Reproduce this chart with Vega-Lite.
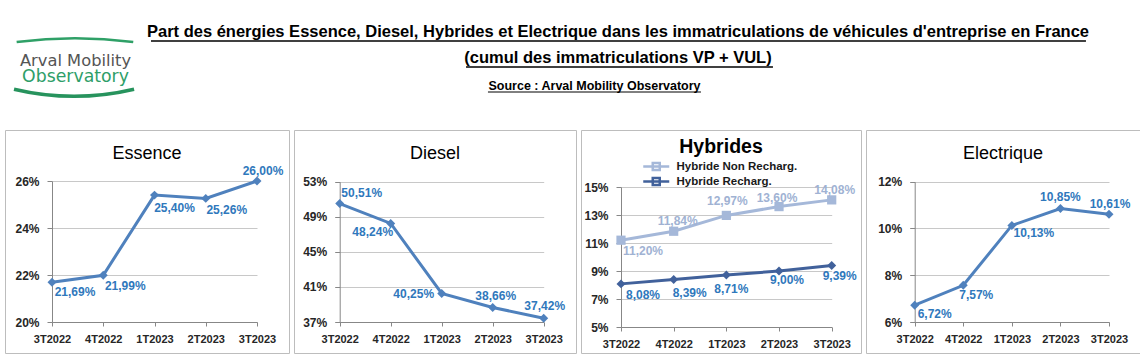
{
  "$schema": "https://vega.github.io/schema/vega-lite/v6.json",
  "padding": {"left": 4, "top": 0, "right": 0, "bottom": 0},
  "background": "white",
  "config": {
    "locale": {"number": {"decimal": ",", "thousands": " ", "grouping": [3], "currency": ["", " €"]}},
    "font": "Liberation Sans",
    "view": {"stroke": "#BDBDBD", "strokeWidth": 1},
    "axis": {"domainColor": "#878787", "tickColor": "#878787", "gridColor": "#C8C8C8", "labelFont": "Liberation Sans", "labelFontWeight": "bold", "labelColor": "#262626"},
    "axisX": {"labelFontSize": 11, "tickSize": 4, "labelPadding": 7, "grid": false, "labelAngle": 0, "labelOverlap": false, "labelBound": false},
    "axisY": {"labelFontSize": 12, "tickSize": 5, "labelPadding": 8, "grid": true}
  },
  "datasets": {
    "d": [
      {"e": "Essence", "s": "Essence", "q": "3T2022", "v": 0.2169},
      {"e": "Essence", "s": "Essence", "q": "4T2022", "v": 0.2199},
      {"e": "Essence", "s": "Essence", "q": "1T2023", "v": 0.2540},
      {"e": "Essence", "s": "Essence", "q": "2T2023", "v": 0.2526},
      {"e": "Essence", "s": "Essence", "q": "3T2023", "v": 0.2600},
      {"e": "Diesel", "s": "Diesel", "q": "3T2022", "v": 0.5051},
      {"e": "Diesel", "s": "Diesel", "q": "4T2022", "v": 0.4824},
      {"e": "Diesel", "s": "Diesel", "q": "1T2023", "v": 0.4025},
      {"e": "Diesel", "s": "Diesel", "q": "2T2023", "v": 0.3866},
      {"e": "Diesel", "s": "Diesel", "q": "3T2023", "v": 0.3742},
      {"e": "Hybrides", "s": "Hybride Non Recharg.", "q": "3T2022", "v": 0.1120},
      {"e": "Hybrides", "s": "Hybride Non Recharg.", "q": "4T2022", "v": 0.1184},
      {"e": "Hybrides", "s": "Hybride Non Recharg.", "q": "1T2023", "v": 0.1297},
      {"e": "Hybrides", "s": "Hybride Non Recharg.", "q": "2T2023", "v": 0.1360},
      {"e": "Hybrides", "s": "Hybride Non Recharg.", "q": "3T2023", "v": 0.1408},
      {"e": "Hybrides", "s": "Hybride Recharg.", "q": "3T2022", "v": 0.0808},
      {"e": "Hybrides", "s": "Hybride Recharg.", "q": "4T2022", "v": 0.0839},
      {"e": "Hybrides", "s": "Hybride Recharg.", "q": "1T2023", "v": 0.0871},
      {"e": "Hybrides", "s": "Hybride Recharg.", "q": "2T2023", "v": 0.0900},
      {"e": "Hybrides", "s": "Hybride Recharg.", "q": "3T2023", "v": 0.0939},
      {"e": "Electrique", "s": "Electrique", "q": "3T2022", "v": 0.0672},
      {"e": "Electrique", "s": "Electrique", "q": "4T2022", "v": 0.0757},
      {"e": "Electrique", "s": "Electrique", "q": "1T2023", "v": 0.1013},
      {"e": "Electrique", "s": "Electrique", "q": "2T2023", "v": 0.1085},
      {"e": "Electrique", "s": "Electrique", "q": "3T2023", "v": 0.1061}
    ]
  },
  "spacing": 5,
  "vconcat": [
    {
      "width": 1130,
      "height": 124,
      "view": {"stroke": null},
      "data": {"values": [{}]},
      "title": {
        "text": ["Part des énergies Essence, Diesel, Hybrides et Electrique dans les immatriculations de véhicules d'entreprise en France", "(cumul des immatriculations VP + VUL)"],
        "anchor": "middle", "frame": "group", "baseline": "top", "dx": 48, "offset": -66.4,
        "font": "Liberation Sans", "fontSize": 16.5, "fontWeight": "bold", "lineHeight": 26, "color": "#000000"
      },
      "layer": [
        {
          "mark": {"type": "arc", "radius": 463, "radius2": 460.5, "theta": -0.1266, "theta2": 0.1266, "color": "#2FA067"},
          "encoding": {
            "x": {"datum": 0.0619, "type": "quantitative", "scale": {"domain": [0, 1], "nice": false, "zero": false}, "axis": null},
            "y": {"datum": 4.032, "type": "quantitative", "scale": {"domain": [0, 1], "nice": false, "zero": false, "reverse": true}, "axis": null}
          }
        },
        {
          "mark": {"type": "arc", "radius": 262.5, "radius2": 259, "theta": 2.9093, "theta2": 3.3739, "color": "#27935D"},
          "encoding": {
            "x": {"datum": 0.0611, "type": "quantitative"},
            "y": {"datum": -1.327, "type": "quantitative"}
          }
        },
        {
          "mark": {"type": "text", "text": "Arval Mobility", "font": "DejaVu Sans", "fontSize": 16.3, "color": "#555555", "align": "center", "baseline": "alphabetic"},
          "encoding": {
            "x": {"datum": 0.0624, "type": "quantitative"},
            "y": {"datum": 0.533, "type": "quantitative"}
          }
        },
        {
          "mark": {"type": "text", "text": "Observatory", "font": "DejaVu Sans", "fontSize": 17.3, "color": "#2E9E68", "align": "center", "baseline": "alphabetic"},
          "encoding": {
            "x": {"datum": 0.0624, "type": "quantitative"},
            "y": {"datum": 0.662, "type": "quantitative"}
          }
        },
        {
          "mark": {"type": "text", "text": "Source : Arval Mobility Observatory", "font": "Liberation Sans", "fontSize": 12.5, "fontWeight": "bold", "color": "#000000", "align": "center", "baseline": "alphabetic"},
          "encoding": {
            "x": {"datum": 0.5217, "type": "quantitative"},
            "y": {"datum": 0.7218, "type": "quantitative"}
          }
        },
        {
          "mark": {"type": "rule", "color": "#000000", "strokeWidth": 1.5},
          "encoding": {
            "x": {"datum": 0.1292, "type": "quantitative"},
            "x2": {"datum": 0.9566},
            "y": {"datum": 0.3306, "type": "quantitative"}
          }
        },
        {
          "mark": {"type": "rule", "color": "#000000", "strokeWidth": 1.5},
          "encoding": {
            "x": {"datum": 0.408, "type": "quantitative"},
            "x2": {"datum": 0.6796},
            "y": {"datum": 0.540, "type": "quantitative"}
          }
        },
        {
          "mark": {"type": "rule", "color": "#000000", "strokeWidth": 1},
          "encoding": {
            "x": {"datum": 0.4274, "type": "quantitative"},
            "x2": {"datum": 0.6159},
            "y": {"datum": 0.742, "type": "quantitative"}
          }
        }
      ]
    },
    {
      "spacing": 3,
      "resolve": {"scale": {"color": "independent"}, "legend": {"color": "independent"}},
      "hconcat": [
        {
          "width": 284, "height": 223,
          "title": {"text": "Essence", "anchor": "middle", "frame": "group", "baseline": "top", "offset": -33, "fontSize": 18, "fontWeight": "normal", "color": "#000000"},
          "data": {"name": "d"},
          "transform": [{"filter": "datum.e == 'Essence'"}],
          "encoding": {
            "x": {"field": "q", "type": "ordinal", "sort": ["3T2022", "4T2022", "1T2023", "2T2023", "3T2023"], "scale": {"type": "point", "padding": 0, "range": [47, 252]}, "axis": {"title": null, "offset": -31}},
            "y": {"field": "v", "type": "quantitative", "scale": {"domain": [0.20, 0.26], "range": [192, 51], "nice": false, "zero": false}, "axis": {"title": null, "offset": -47, "values": [0.20, 0.22, 0.24, 0.26], "format": ".0%"}}
          },
          "layer": [
            {"mark": {"type": "line", "color": "#4F81BD", "strokeWidth": 3}},
            {"mark": {"type": "point", "shape": "diamond", "filled": true, "size": 80, "color": "#4F81BD", "opacity": 1}},
            {"mark": {"type": "text", "fontSize": 12, "fontWeight": "bold", "color": "#2F78BC", "align": "center", "baseline": "middle",
              "dx": {"expr": "[23,22,20,21,6][indexof(['3T2022','4T2022','1T2023','2T2023','3T2023'], datum.q)]"},
              "dy": {"expr": "[10,11,13,12,-10][indexof(['3T2022','4T2022','1T2023','2T2023','3T2023'], datum.q)]"}},
             "encoding": {"text": {"field": "v", "type": "quantitative", "format": ".2%"}}}
          ]
        },
        {
          "width": 282, "height": 223,
          "title": {"text": "Diesel", "anchor": "middle", "frame": "group", "baseline": "top", "offset": -33, "fontSize": 18, "fontWeight": "normal", "color": "#000000"},
          "data": {"name": "d"},
          "transform": [{"filter": "datum.e == 'Diesel'"}],
          "encoding": {
            "x": {"field": "q", "type": "ordinal", "sort": ["3T2022", "4T2022", "1T2023", "2T2023", "3T2023"], "scale": {"type": "point", "padding": 0, "range": [45.7, 249.7]}, "axis": {"title": null, "offset": -31}},
            "y": {"field": "v", "type": "quantitative", "scale": {"domain": [0.37, 0.53], "range": [192, 51.7], "nice": false, "zero": false}, "axis": {"title": null, "offset": -45.7, "values": [0.37, 0.41, 0.45, 0.49, 0.53], "format": ".0%"}}
          },
          "layer": [
            {"mark": {"type": "line", "color": "#4F81BD", "strokeWidth": 3}},
            {"mark": {"type": "point", "shape": "diamond", "filled": true, "size": 80, "color": "#4F81BD", "opacity": 1}},
            {"mark": {"type": "text", "fontSize": 12, "fontWeight": "bold", "color": "#2F78BC", "align": "center", "baseline": "middle",
              "dx": {"expr": "[22,-18,-28,3,1][indexof(['3T2022','4T2022','1T2023','2T2023','3T2023'], datum.q)]"},
              "dy": {"expr": "[-11,9,0,-11,-12][indexof(['3T2022','4T2022','1T2023','2T2023','3T2023'], datum.q)]"}},
             "encoding": {"text": {"field": "v", "type": "quantitative", "format": ".2%"}}}
          ]
        },
        {
          "width": 280, "height": 223,
          "title": {"text": "Hybrides", "anchor": "middle", "frame": "group", "baseline": "top", "offset": -27, "fontSize": 19.5, "fontWeight": "bold", "color": "#000000"},
          "data": {"name": "d"},
          "transform": [{"filter": "datum.e == 'Hybrides'"}],
          "encoding": {
            "x": {"field": "q", "type": "ordinal", "sort": ["3T2022", "4T2022", "1T2023", "2T2023", "3T2023"], "scale": {"type": "point", "padding": 0, "range": [40, 250.7]}, "axis": {"title": null, "offset": -26}},
            "y": {"field": "v", "type": "quantitative", "scale": {"domain": [0.05, 0.15], "range": [197, 57], "nice": false, "zero": false}, "axis": {"title": null, "offset": -40, "values": [0.05, 0.07, 0.09, 0.11, 0.13, 0.15], "format": ".0%"}}
          },
          "layer": [
            {"mark": {"type": "line", "strokeWidth": 3},
             "encoding": {"color": {"field": "s", "type": "nominal",
               "scale": {"domain": ["Hybride Non Recharg.", "Hybride Recharg."], "range": ["#A5B8D9", "#41619B"]},
               "legend": {"orient": "none", "legendX": 68.75, "legendY": 30, "title": null, "padding": 0,
                 "labelFont": "Liberation Sans", "labelFontSize": 11.5, "labelFontWeight": "bold", "labelColor": "#1A1A1A",
                 "symbolSize": 100, "symbolStrokeWidth": 2.5, "rowPadding": -3, "labelOffset": 13.75,
                 "symbolType": "M-2.6,0L2.6,0M-0.7,-0.7L0.7,-0.7L0.7,0.7L-0.7,0.7Z"
               }}}},
            {"transform": [{"filter": "datum.s == 'Hybride Non Recharg.'"}],
             "mark": {"type": "point", "shape": "square", "filled": true, "size": 85, "opacity": 1, "color": "#A5B8D9"}},
            {"transform": [{"filter": "datum.s == 'Hybride Recharg.'"}],
             "mark": {"type": "point", "shape": "diamond", "filled": true, "size": 80, "opacity": 1, "color": "#41619B"}},
            {"mark": {"type": "text", "fontSize": 12, "fontWeight": "bold", "align": "center", "baseline": "middle",
              "dx": {"expr": "datum.s == 'Hybride Recharg.' ? [22,16,5,8,8][indexof(['3T2022','4T2022','1T2023','2T2023','3T2023'], datum.q)] : [22,4,1,-2,3][indexof(['3T2022','4T2022','1T2023','2T2023','3T2023'], datum.q)]"},
              "dy": {"expr": "datum.s == 'Hybride Recharg.' ? [11,13,14,9,10][indexof(['3T2022','4T2022','1T2023','2T2023','3T2023'], datum.q)] : [11,-10,-14,-9,-10][indexof(['3T2022','4T2022','1T2023','2T2023','3T2023'], datum.q)]"}},
             "encoding": {
               "text": {"field": "v", "type": "quantitative", "format": ".2%"},
               "color": {"condition": {"test": "datum.s == 'Hybride Recharg.'", "value": "#2F78BC"}, "value": "#A0B2D3"}
             }}
          ]
        },
        {
          "width": 274, "height": 223,
          "title": {"text": "Electrique", "anchor": "middle", "frame": "group", "baseline": "top", "offset": -33, "fontSize": 18, "fontWeight": "normal", "color": "#000000"},
          "data": {"name": "d"},
          "transform": [{"filter": "datum.e == 'Electrique'"}],
          "encoding": {
            "x": {"field": "q", "type": "ordinal", "sort": ["3T2022", "4T2022", "1T2023", "2T2023", "3T2023"], "scale": {"type": "point", "padding": 0, "range": [48.7, 243]}, "axis": {"title": null, "offset": -31}},
            "y": {"field": "v", "type": "quantitative", "scale": {"domain": [0.06, 0.12], "range": [192, 51.7], "nice": false, "zero": false}, "axis": {"title": null, "offset": -48.7, "values": [0.06, 0.08, 0.10, 0.12], "format": ".0%"}}
          },
          "layer": [
            {"mark": {"type": "line", "color": "#4F81BD", "strokeWidth": 3}},
            {"mark": {"type": "point", "shape": "diamond", "filled": true, "size": 80, "color": "#4F81BD", "opacity": 1}},
            {"mark": {"type": "text", "fontSize": 12, "fontWeight": "bold", "color": "#2F78BC", "align": "center", "baseline": "middle",
              "dx": {"expr": "[20,13,22,0,1][indexof(['3T2022','4T2022','1T2023','2T2023','3T2023'], datum.q)]"},
              "dy": {"expr": "[9,10,8,-12,-10][indexof(['3T2022','4T2022','1T2023','2T2023','3T2023'], datum.q)]"}},
             "encoding": {"text": {"field": "v", "type": "quantitative", "format": ".2%"}}}
          ]
        }
      ]
    }
  ]
}
